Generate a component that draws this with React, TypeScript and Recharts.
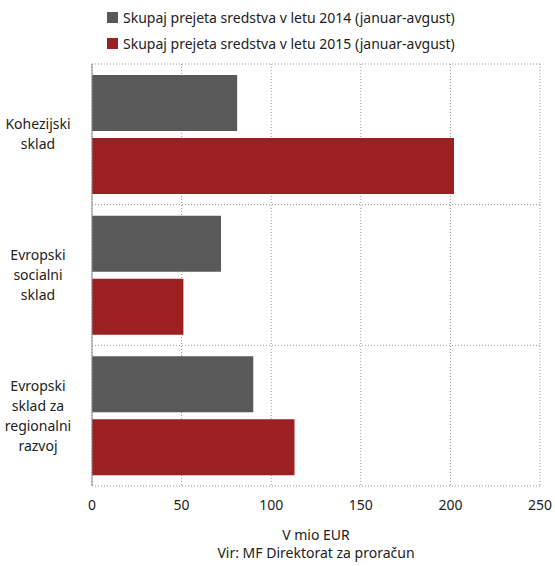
import { BarChart, Bar, XAxis, YAxis, CartesianGrid } from "recharts";

const categories = [["Kohezijski", "sklad"], ["Evropski", "socialni", "sklad"], ["Evropski", "sklad za", "regionalni", "razvoj"]];
const values2014 = [81, 72, 90];
const values2015 = [202, 51, 113];
const xTicks = [0, 50, 100, 150, 200, 250];
const label2014 = "Skupaj prejeta sredstva v letu 2014 (januar-avgust)";
const label2015 = "Skupaj prejeta sredstva v letu 2015 (januar-avgust)";

const data = categories.map((c, i) => ({ name: c.join(" "), y2014: values2014[i], y2015: values2015[i] }));
const font = "'Noto Sans', sans-serif";

function CatTick({ x, y, index }: any) {
  const lines = categories[index];
  const lh = 20;
  const start = y - ((lines.length - 1) * lh) / 2;
  return (
    <text x={x - 46} y={start} textAnchor="middle" fill="#222" fontSize={14} fontFamily={font}>
      {lines.map((l, i) => (
        <tspan key={i} x={x - 46} dy={i === 0 ? 5 : lh}>{l}</tspan>
      ))}
    </text>
  );
}

// category boundaries for the horizontal grid
const boundaries = ({ offset }: any) => {
  const step = offset.height / categories.length;
  return categories.map((_, i) => offset.top + i * step).concat(offset.top + offset.height);
};

export default function App() {
  return (
    <div style={{ position: "absolute", left: 0, top: 0, width: 555, height: 566, background: "#fff", fontFamily: font }}>
      {[[label2014, "#595959", 8], [label2015, "#9c1f22", 34]].map(([t, c, top]) => (
        <div key={t as string} style={{ position: "absolute", left: 107, top: top as number, display: "flex", alignItems: "center", fontSize: 14, color: "#222" }}>
          <span style={{ width: 11, height: 11, background: c as string, marginRight: 5, display: "inline-block" }} />
          {t}
        </div>
      ))}
      <BarChart width={555} height={566} data={data} layout="vertical" margin={{ top: 64, right: 15, bottom: 50, left: 0 }} barCategoryGap={11} barGap={7}>
        <CartesianGrid stroke="#999" strokeDasharray="1 2" horizontalCoordinatesGenerator={boundaries} />
        <XAxis type="number" domain={[0, 250]} ticks={xTicks} tickLine={false} axisLine={false} tick={{ fill: "#222", fontSize: 14, fontFamily: font }} tickMargin={8} />
        <YAxis type="category" dataKey="name" width={92} tickLine={false} axisLine={{ stroke: "#888" }} tick={<CatTick />} />
        <Bar dataKey="y2014" fill="#595959" isAnimationActive={false} />
        <Bar dataKey="y2015" fill="#9c1f22" isAnimationActive={false} />
      </BarChart>
      <div style={{ position: "absolute", left: 92, width: 448, top: 526, textAlign: "center", fontSize: 14, color: "#222", lineHeight: "18px" }}>
        V mio EUR<br />Vir: MF Direktorat za proračun
      </div>
    </div>
  );
}
